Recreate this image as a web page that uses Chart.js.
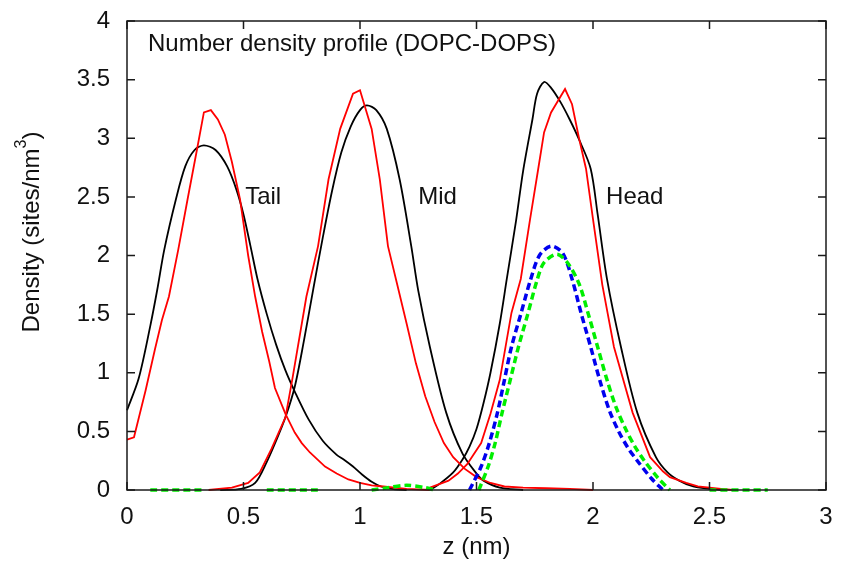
<!DOCTYPE html>
<html>
<head>
<meta charset="utf-8">
<script src="https://cdn.jsdelivr.net/npm/chart.js@4/dist/chart.umd.min.js"></script>
<style>
  html, body { margin: 0; padding: 0; background: #fff; }
  canvas { display: block; }
</style>
</head>
<body>
<canvas id="density-chart" width="841" height="563"></canvas>
<script>
// [z (nm), density] pairs
const tailBlack = [[0, 0.68], [0.05, 0.95], [0.1, 1.4], [0.13, 1.71], [0.16, 2.05], [0.21, 2.48], [0.25, 2.76],
  [0.29, 2.9], [0.33, 2.94], [0.38, 2.9], [0.43, 2.76], [0.47, 2.56], [0.5, 2.35], [0.53, 2.08], [0.56, 1.8],
  [0.6, 1.5], [0.64, 1.24], [0.68, 1.02], [0.72, 0.84], [0.78, 0.6], [0.84, 0.42], [0.9, 0.3], [0.93, 0.26],
  [0.97, 0.2], [1.01, 0.13], [1.05, 0.07], [1.09, 0.03], [1.15, 0.005], [1.2, 0]];
const tailRed = [[0, 0.43], [0.03, 0.45], [0.08, 0.85], [0.12, 1.2], [0.15, 1.45], [0.18, 1.65], [0.22, 2.05],
  [0.26, 2.48], [0.3, 2.9], [0.33, 3.22], [0.36, 3.24], [0.39, 3.16], [0.42, 3.03], [0.45, 2.8], [0.485, 2.48],
  [0.52, 2.0], [0.55, 1.65], [0.58, 1.35], [0.61, 1.1], [0.635, 0.87], [0.68, 0.65], [0.72, 0.49], [0.75, 0.4],
  [0.785, 0.32], [0.85, 0.2], [0.9, 0.14], [0.95, 0.09], [1.0, 0.06], [1.05, 0.04], [1.1, 0.03], [1.2, 0.01], [1.3, 0]];
const midBlack = [[0.4, 0], [0.49, 0.01], [0.55, 0.06], [0.6, 0.24], [0.64, 0.42], [0.68, 0.62], [0.72, 0.88],
  [0.76, 1.28], [0.8, 1.72], [0.84, 2.15], [0.88, 2.55], [0.92, 2.88], [0.96, 3.1], [1.0, 3.24], [1.03, 3.28],
  [1.07, 3.24], [1.115, 3.08], [1.17, 2.65], [1.22, 2.08], [1.25, 1.7], [1.3, 1.22], [1.37, 0.66], [1.44, 0.31],
  [1.5, 0.14], [1.53, 0.08], [1.6, 0.02], [1.7, 0]];
const midRed = [[0.35, 0], [0.45, 0.02], [0.52, 0.06], [0.57, 0.15], [0.62, 0.35], [0.68, 0.62], [0.71, 0.95],
  [0.77, 1.65], [0.82, 2.08], [0.865, 2.65], [0.915, 3.08], [0.97, 3.38], [1.0, 3.41], [1.05, 3.08], [1.085, 2.65],
  [1.12, 2.08], [1.16, 1.75], [1.2, 1.42], [1.24, 1.08], [1.28, 0.8], [1.32, 0.58], [1.36, 0.4], [1.4, 0.28],
  [1.45, 0.18], [1.5, 0.11], [1.56, 0.06], [1.62, 0.03], [1.7, 0.02], [1.8, 0.015], [1.9, 0.01], [2.0, 0]];
const headBlack = [[1.3, 0], [1.34, 0.05], [1.4, 0.15], [1.44, 0.26], [1.47, 0.37], [1.5, 0.52], [1.53, 0.74],
  [1.56, 1.0], [1.6, 1.42], [1.63, 1.8], [1.67, 2.3], [1.7, 2.72], [1.74, 3.16], [1.76, 3.38], [1.79, 3.48],
  [1.82, 3.43], [1.86, 3.31], [1.9, 3.16], [1.94, 2.99], [1.99, 2.74], [2.02, 2.35], [2.06, 1.8], [2.12, 1.22],
  [2.19, 0.66], [2.27, 0.28], [2.32, 0.15], [2.37, 0.08], [2.43, 0.03], [2.5, 0.01], [2.55, 0]];
const headRed = [[1.3, 0.02], [1.38, 0.08], [1.42, 0.14], [1.46, 0.22], [1.52, 0.4], [1.56, 0.65], [1.6, 0.94],
  [1.65, 1.51], [1.69, 1.8], [1.73, 2.31], [1.765, 2.74], [1.79, 3.05], [1.82, 3.22], [1.88, 3.42], [1.91, 3.29],
  [1.94, 3.0], [1.97, 2.74], [2.0, 2.31], [2.04, 1.75], [2.09, 1.22], [2.17, 0.66], [2.245, 0.28], [2.3, 0.16],
  [2.33, 0.11], [2.4, 0.06], [2.45, 0.03], [2.55, 0.01], [2.6, 0]];
const headBlue = [[1.47, 0], [1.52, 0.2], [1.555, 0.4], [1.59, 0.66], [1.62, 0.94], [1.65, 1.22], [1.69, 1.5],
  [1.73, 1.78], [1.77, 2.0], [1.82, 2.08], [1.87, 2.02], [1.91, 1.8], [1.95, 1.5], [1.99, 1.22], [2.03, 0.93],
  [2.07, 0.68], [2.11, 0.5], [2.15, 0.36], [2.19, 0.25], [2.25, 0.1], [2.3, 0]];
// null density = gap in the dashed green trace
const headGreen = [[0.1, 0], [0.33, 0], [0.46, null], [0.6, 0], [0.82, 0], [0.95, null],
  [1.05, 0], [1.12, 0.02], [1.2, 0.04], [1.28, 0.02], [1.32, 0], [1.4, null],
  [1.51, 0], [1.55, 0.2], [1.58, 0.4], [1.61, 0.66], [1.645, 0.94], [1.68, 1.22], [1.72, 1.5], [1.76, 1.79],
  [1.79, 1.94], [1.845, 2.01], [1.89, 1.94], [1.94, 1.76], [1.98, 1.5], [2.02, 1.22], [2.06, 0.94], [2.1, 0.7],
  [2.14, 0.52], [2.18, 0.37], [2.22, 0.25], [2.28, 0.1], [2.33, 0], [2.4, null], [2.5, 0], [2.75, 0]];

const xTicks = [0, 0.5, 1, 1.5, 2, 2.5, 3];
const yTicks = [0, 0.5, 1, 1.5, 2, 2.5, 3, 3.5, 4];

const regionLabels = ['Tail', 'Mid', 'Head'];
const regionLabelZ = [0.507, 1.25, 2.056];
const regionLabelD = [2.5, 2.5, 2.5];
const plotTitle = 'Number density profile (DOPC-DOPS)';

const FONT = "'Liberation Sans', Arial, Helvetica, sans-serif";
const FS = 24;

const toPoints = pairs => pairs.map(p => ({ x: p[0], y: p[1] }));

function solid(data, color, smooth) {
    return {
        data: toPoints(data),
        borderColor: color,
        borderWidth: 1.8,
        pointRadius: 0,
        fill: false,
        clip: 4,
        tension: smooth ? 0.3 : 0
    };
}

function dashed(data, color) {
    return {
        data: toPoints(data),
        borderColor: color,
        borderWidth: 3.5,
        borderDash: [7, 4],
        pointRadius: 0,
        fill: false,
        clip: 6,
        spanGaps: false,
        tension: 0.3
    };
}

// box + inward ticks on all four sides, like the original plot
const frame = {
    id: 'frame',
    afterDatasetsDraw(chart) {
        const { ctx, chartArea: a, scales: { x, y } } = chart;
        ctx.save();
        ctx.strokeStyle = '#1a1a1a';
        ctx.lineWidth = 1.5;
        ctx.beginPath();
        xTicks.forEach(v => {
            const px = x.getPixelForValue(v);
            ctx.moveTo(px, a.bottom); ctx.lineTo(px, a.bottom - 8);
            ctx.moveTo(px, a.top); ctx.lineTo(px, a.top + 8);
        });
        yTicks.forEach(v => {
            const py = y.getPixelForValue(v);
            ctx.moveTo(a.left, py); ctx.lineTo(a.left + 8, py);
            ctx.moveTo(a.right, py); ctx.lineTo(a.right - 8, py);
        });
        ctx.stroke();
        ctx.strokeRect(a.left, a.top, a.right - a.left, a.bottom - a.top);
        ctx.restore();
    }
};

const texts = {
    id: 'texts',
    afterDraw(chart) {
        const { ctx, scales: { x, y } } = chart;
        ctx.save();
        ctx.fillStyle = '#111';
        ctx.font = FS + 'px ' + FONT;
        ctx.textBaseline = 'middle';
        ctx.textAlign = 'left';
        regionLabels.forEach((t, i) => {
            ctx.fillText(t, x.getPixelForValue(regionLabelZ[i]), y.getPixelForValue(regionLabelD[i]));
        });
        ctx.fillText(plotTitle, x.getPixelForValue(0.09), y.getPixelForValue(3.8));

        // y axis title with superscript
        const main = 'Density (sites/nm', sup = '3', end = ')';
        const w1 = ctx.measureText(main).width;
        const w3 = ctx.measureText(end).width;
        ctx.font = '16px ' + FONT;
        const w2 = ctx.measureText(sup).width;
        const total = w1 + w2 + w3;
        ctx.translate(32, 232);
        ctx.rotate(-Math.PI / 2);
        let sx = -total / 2;
        ctx.font = FS + 'px ' + FONT;
        ctx.fillText(main, sx, 0);
        sx += w1;
        ctx.font = '16px ' + FONT;
        ctx.fillText(sup, sx, -10);
        sx += w2;
        ctx.font = FS + 'px ' + FONT;
        ctx.fillText(end, sx, 0);
        ctx.restore();
    }
};

new Chart(document.getElementById('density-chart').getContext('2d'), {
    type: 'line',
    data: {
        datasets: [
            dashed(headGreen, '#00ee00'),
            dashed(headBlue, '#0000ee'),
            solid(tailRed, '#ff0000', false),
            solid(midRed, '#ff0000', false),
            solid(headRed, '#ff0000', false),
            solid(tailBlack, '#000000', true),
            solid(midBlack, '#000000', true),
            solid(headBlack, '#000000', true)
        ]
    },
    plugins: [frame, texts],
    options: {
        responsive: false,
        devicePixelRatio: 1,
        animation: false,
        layout: { padding: { left: 0, top: 21, right: 15, bottom: 0 } },
        plugins: {
            legend: { display: false },
            tooltip: { enabled: false }
        },
        scales: {
            x: {
                type: 'linear',
                min: 0,
                max: 3,
                afterBuildTicks: s => { s.ticks = xTicks.map(v => ({ value: v })); },
                afterFit: s => { s.height = 73; s.paddingLeft = 0; s.paddingRight = 0; },
                grid: { display: false, drawTicks: false },
                border: { display: false },
                ticks: { color: '#111', padding: 13, font: { family: FONT, size: FS }, callback: v => String(v) },
                title: {
                    display: true,
                    text: 'z (nm)',
                    color: '#111',
                    padding: { top: 0, bottom: 1 },
                    font: { family: FONT, size: FS }
                }
            },
            y: {
                type: 'linear',
                min: 0,
                max: 4,
                afterBuildTicks: s => { s.ticks = yTicks.map(v => ({ value: v })); },
                afterFit: s => { s.width = 127; s.paddingTop = 0; s.paddingBottom = 0; },
                grid: { display: false, drawTicks: false },
                border: { display: false },
                ticks: { color: '#111', padding: 17, font: { family: FONT, size: FS }, callback: v => String(v) }
            }
        }
    }
});
</script>
</body>
</html>
